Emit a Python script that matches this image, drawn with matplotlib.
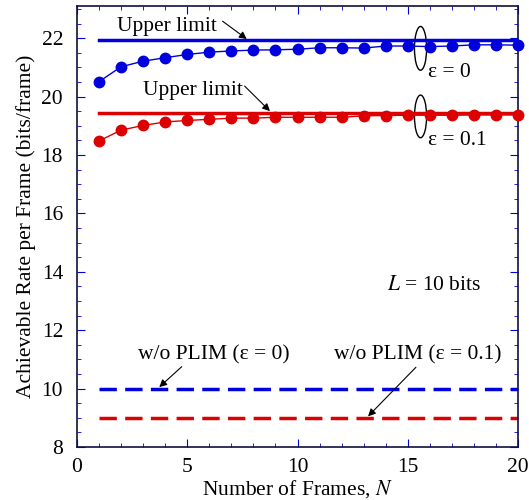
import matplotlib
matplotlib.use('Agg')
import matplotlib.pyplot as plt
from matplotlib.patches import Ellipse
from matplotlib.ticker import MultipleLocator
import numpy as np

plt.rcParams['font.family'] = ['Liberation Serif', 'DejaVu Serif']
plt.rcParams['mathtext.fontset'] = 'stix'

frames = np.arange(1, 21)
rate_eps0 = [20.51, 21.02, 21.21, 21.33, 21.44, 21.52, 21.56, 21.59, 21.60, 21.62,
             21.67, 21.67, 21.66, 21.73, 21.73, 21.71, 21.73, 21.77, 21.77, 21.76]
rate_eps01 = [18.48, 18.85, 19.01, 19.13, 19.18, 19.22, 19.26, 19.26, 19.29, 19.29,
              19.29, 19.29, 19.34, 19.35, 19.36, 19.36, 19.36, 19.37, 19.37, 19.37]
upper_eps0 = 21.95
upper_eps01 = 19.43
noplim_eps0 = 10.0
noplim_eps01 = 9.0

blue = '#0000dd'
red = '#dd0000'

fig = plt.figure(figsize=(5.29, 5.0), dpi=100)
ax = fig.add_axes([77/529, 53/500, 441/529, 441/500])

ax.plot([frames[0], frames[-1]], [upper_eps0] * 2, color=blue, lw=2.5)
ax.plot([frames[0], frames[-1]], [upper_eps01] * 2, color=red, lw=2.5)
ax.plot(frames, rate_eps0, '-o', color=blue, lw=1, ms=7.5, clip_on=False, zorder=3)
ax.plot(frames, rate_eps01, '-o', color=red, lw=1, ms=7.5, clip_on=False, zorder=3)
ax.plot([frames[0], frames[-1]], [noplim_eps0] * 2, '--', color=blue, lw=2.5, dashes=(5, 2.4))
ax.plot([frames[0], frames[-1]], [noplim_eps01] * 2, '--', color=red, lw=2.5, dashes=(5, 2.4))

ax.set_xlim(0, 20)
ax.set_ylim(8, 23.1)
ax.xaxis.set_major_locator(MultipleLocator(5))
ax.xaxis.set_minor_locator(MultipleLocator(1))
ax.yaxis.set_major_locator(MultipleLocator(2))
ax.yaxis.set_minor_locator(MultipleLocator(0.5))
ax.tick_params(which='both', direction='in', top=True, right=True, color=blue,
               labelsize=15.5)
ax.tick_params(which='major', length=6)
ax.tick_params(which='minor', length=3)
ax.tick_params(axis='y', which='both', pad=10)
ax.tick_params(axis='x', which='both', pad=8)
for s in ax.spines.values():
    s.set_color('#101040')
    s.set_linewidth(1.2)

ax.set_xlabel('Number of Frames, $N$', fontsize=15.5, labelpad=1)
ax.set_ylabel('Achievable Rate per Frame (bits/frame)', fontsize=15.5, labelpad=4)

fs = 15.5
ap = dict(arrowstyle='-|>', color='black', lw=0.8, mutation_scale=11,
          shrinkA=0, shrinkB=0)
ax.text(4.1, 22.4, 'Upper limit', fontsize=fs, ha='center', va='center')
ax.annotate('', xy=(7.7, 21.97), xytext=(6.6, 22.58), arrowprops=ap)
ax.text(5.26, 20.19, 'Upper limit', fontsize=fs, ha='center', va='center')
ax.annotate('', xy=(8.75, 19.5), xytext=(7.6, 20.36), arrowprops=ap)
ax.text(6.2, 11.15, 'w/o PLIM (ε = 0)', fontsize=fs, ha='center', va='center')
ax.annotate('', xy=(3.73, 10.05), xytext=(4.75, 10.75), arrowprops=ap)
ax.text(15.45, 11.15, 'w/o PLIM (ε = 0.1)', fontsize=fs, ha='center', va='center')
ax.annotate('', xy=(13.2, 9.05), xytext=(15.37, 10.73), arrowprops=ap)

ax.add_patch(Ellipse((15.58, 21.65), 0.55, 1.5, fill=False, ec='black', lw=1))
ax.add_patch(Ellipse((15.58, 19.32), 0.55, 1.46, fill=False, ec='black', lw=1))
ax.text(15.9, 20.84, 'ε = 0', fontsize=fs, ha='left', va='center')
ax.text(15.9, 18.48, 'ε = 0.1', fontsize=fs, ha='left', va='center')
ax.text(16.2, 13.54, '$L$ = 10 bits', fontsize=fs, ha='center', va='center')

fig.savefig('out.png', dpi=100)
